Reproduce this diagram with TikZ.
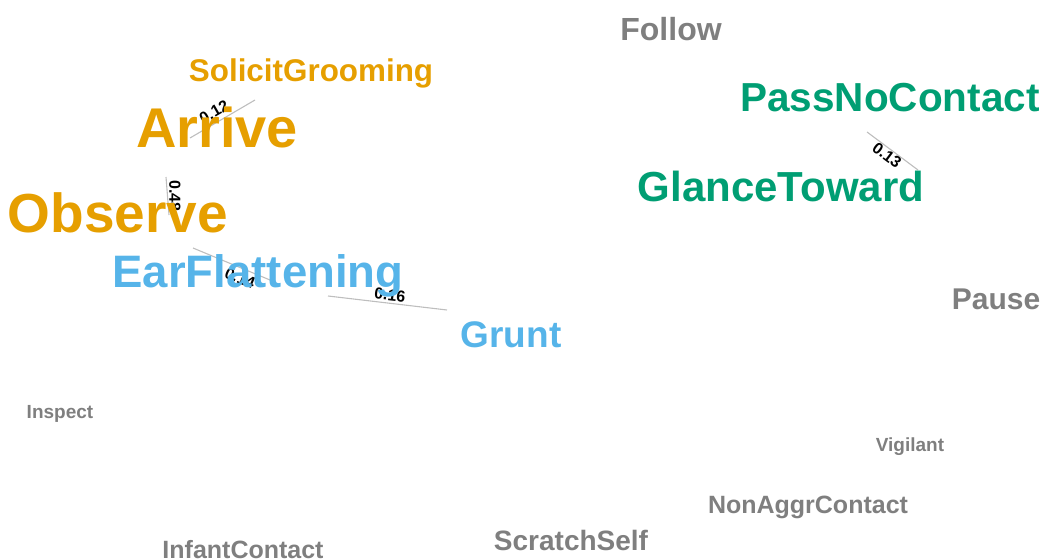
\documentclass[tikz,border=0pt]{standalone}
\usepackage{fontspec}
\setmainfont{Liberation Sans}
\definecolor{cOr}{HTML}{E69F00}
\definecolor{cGr}{HTML}{009E73}
\definecolor{cBl}{HTML}{56B4E9}
\definecolor{cGy}{HTML}{7F7F7F}
\definecolor{cEd}{HTML}{BEBEBE}
\tikzset{
  word/.style={anchor=base, inner sep=0pt, font=\bfseries\fontsize{#1}{#1}\selectfont},
  edge/.style={draw=cEd, line width=1.1pt},
  elabel/.style={inner sep=0pt, text=black, font=\bfseries\fontsize{16}{16}\selectfont}
}
\begin{document}
\begin{tikzpicture}[x=1pt,y=-1pt]
\useasboundingbox (0,0) rectangle (1048,559);
% edge end points
\coordinate (e1a) at (190,138);
\coordinate (e1b) at (255,100);
\coordinate (e2a) at (166,177);
\coordinate (e2b) at (169,215);
\coordinate (e3a) at (193,248);
\coordinate (e3b) at (270,280);
\coordinate (e4a) at (328,296);
\coordinate (e4b) at (447,310);
\coordinate (e5a) at (867,132);
\coordinate (e5b) at (918,170);
% edges with labels
\draw[edge] (e1a) -- (e1b) node[elabel, rotate=30] at (214,112) {0.12};
\draw[edge] (e2a) -- (e2b) node[elabel, rotate=-90] at (175,196) {0.48};
\draw[edge] (e3a) -- (e3b) node[elabel, rotate=-22.6] at (240,278) {0.14};
\draw[edge] (e4a) -- (e4b) node[elabel, rotate=-6.7] at (390,295) {0.16};
\draw[edge] (e5a) -- (e5b) node[elabel, rotate=-36.7] at (887,155) {0.13};
% words
\node[word=32, text=cGy] (follow) at (671,41) {Follow};
\node[word=31.4, text=cOr] (solicit) at (311,82) {SolicitGrooming};
\node[word=56, text=cOr] (arrive) at (217,147) {Arrive};
\node[word=55, text=cOr] (observe) at (118,232) {Observe};
\node[word=45.5, text=cBl] (ear) at (258,287) {EarFlattening};
\node[word=37, text=cBl] (grunt) at (511,347) {Grunt};
\node[word=40.5, text=cGr] (pass) at (890,111) {PassNoContact};
\node[word=42, text=cGr] (glance) at (781,201) {GlanceToward};
\node[word=30, text=cGy] (pause) at (996,309) {Pause};
\node[word=19, text=cGy] (inspect) at (60,418) {Inspect};
\node[word=19, text=cGy] (vigilant) at (910,451) {Vigilant};
\node[word=25, text=cGy] (nonaggr) at (808,513) {NonAggrContact};
\node[word=28, text=cGy] (scratch) at (571,550) {ScratchSelf};
\node[word=25, text=cGy] (infant) at (243,558) {InfantContact};
\end{tikzpicture}
\end{document}
